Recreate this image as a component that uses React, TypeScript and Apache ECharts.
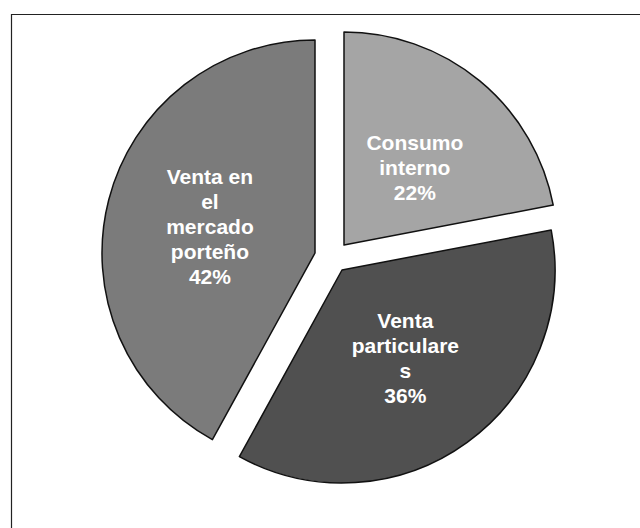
import React, { useEffect, useRef } from "react";
import * as echarts from "echarts";

const categories = ["Consumo interno", "Venta particulares", "Venta en el mercado porteño"];
const wrappedLabels = ["Consumo\ninterno", "Venta\nparticulare\ns", "Venta en\nel\nmercado\nporteño"];
const values = [22, 36, 42];
const colors = ["#a5a5a5", "#505050", "#7b7b7b"];
// each exploded slice's own apex (pie centre)
const sliceCenters = [[344, 245], [342, 270], [315, 253]];
const labelShifts = [[1, 7], [-1, -1], [1, 1]];

export default function App() {
  const ref = useRef<HTMLDivElement>(null);
  useEffect(() => {
    if (!ref.current) return;
    const chart = echarts.init(ref.current, undefined, { renderer: "svg" });
    const series = categories.map((_, s) => ({
      type: "pie",
      center: sliceCenters[s],
      radius: 213,
      startAngle: 90,
      clockwise: true,
      avoidLabelOverlap: false,
      emphasis: { disabled: true },
      silent: true,
      labelLine: { show: false },
      labelLayout: { dx: labelShifts[s][0], dy: labelShifts[s][1] },
      data: categories.map((name, i) => ({
        name,
        value: values[i],
        itemStyle:
          i === s
            ? { color: colors[i], borderColor: "#111", borderWidth: 1.5 }
            : { color: "rgba(0,0,0,0)", borderWidth: 0 },
        label: {
          show: i === s,
          position: "inside",
          color: "#ffffff",
          fontFamily: "Liberation Sans, Arial, sans-serif",
          fontWeight: "bold",
          fontSize: 21,
          lineHeight: 25,
          align: "center",
          formatter: (p: any) => `${wrappedLabels[p.dataIndex]}\n${p.value}%`,
        },
      })),
    }));
    chart.setOption({
      animation: false,
      backgroundColor: "#ffffff",
      graphic: [
        {
          type: "rect",
          left: 9,
          top: 12,
          shape: { width: 700, height: 600 },
          style: { fill: "none", stroke: "#222", lineWidth: 1.2 },
          silent: true,
        },
      ],
      series,
    });
    return () => chart.dispose();
  }, []);
  return (
    <div
      ref={ref}
      style={{ position: "absolute", left: 0, top: 0, width: 640, height: 528 }}
    />
  );
}
